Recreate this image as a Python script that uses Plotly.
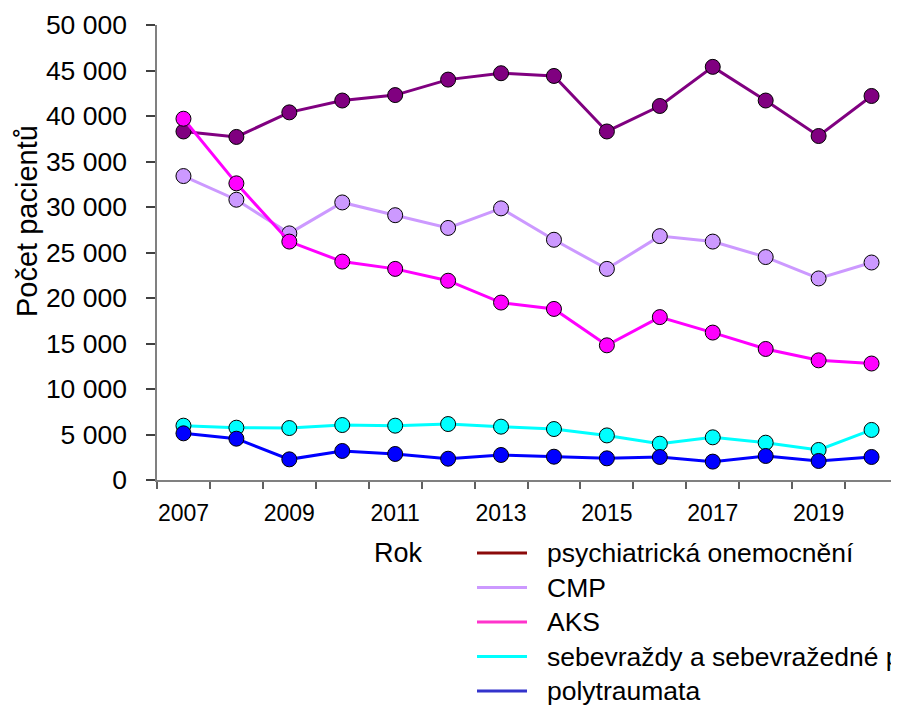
import plotly.graph_objects as go

years = list(range(2007, 2021))

psychiatricka = [38300, 37700, 40400, 41700, 42300, 44000, 44700, 44400, 38300, 41100, 45400, 41700, 37800, 42200]
cmp_vals = [33400, 30800, 27100, 30500, 29100, 27700, 29850, 26400, 23200, 26800, 26200, 24500, 22150, 23900]
aks = [39700, 32600, 26200, 24000, 23200, 21900, 19500, 18800, 14800, 17900, 16200, 14400, 13150, 12800]
sebevrazdy = [5970, 5750, 5710, 6040, 5970, 6150, 5860, 5600, 4900, 3990, 4690, 4100, 3300, 5500]
polytraumata = [5130, 4540, 2270, 3190, 2860, 2340, 2750, 2560, 2380, 2530, 2020, 2640, 2090, 2530]

series_names = ["psychiatrická onemocnění", "CMP", "AKS",
                "sebevraždy a sebevražedné pokusy", "polytraumata"]
series_values = [psychiatricka, cmp_vals, aks, sebevrazdy, polytraumata]
line_colors = ["#800080", "#CC99FF", "#FF00FF", "#00FFFF", "#0000FF"]
legend_colors = ["#8B0A0A", "#CC99FF", "#FF33CC", "#00FFFF", "#3333CC"]

y_tickvals = [0, 5000, 10000, 15000, 20000, 25000, 30000, 35000, 40000, 45000, 50000]
y_ticktext = ["0", "5 000", "10 000", "15 000", "20 000", "25 000", "30 000",
              "35 000", "40 000", "45 000", "50 000"]
x_tickvals = [2007, 2009, 2011, 2013, 2015, 2017, 2019]
x_ticktext = [str(v) for v in x_tickvals]
x_boundaries = [y - 0.5 for y in years] + [years[-1] + 0.5]

FONT = "Liberation Sans, Arial, sans-serif"
W, H = 899, 705
OFF = 8  # page body offset of the figure inside the browser window
ML, MR, MT, MB = 149, 9, 17, 233
PW, PH = W - ML - MR, H - MT - MB


def px_to_paper(wx, wy):
    # window pixel -> paper coordinates
    fx, fy = wx - OFF, wy - OFF
    return (fx - ML) / PW, (H - MB - fy) / PH


fig = go.Figure()
for name, vals, col in zip(series_names, series_values, line_colors):
    fig.add_trace(go.Scatter(
        x=years, y=vals, name=name, mode="lines+markers",
        line=dict(color=col, width=3),
        marker=dict(size=15, color=col, line=dict(color="black", width=1)),
        showlegend=False,
    ))

shapes = []
annotations = []
# manual legend
row_y0 = 553
row_step = 34.5
for i, (name, col) in enumerate(zip(series_names, legend_colors)):
    py = row_y0 + i * row_step
    x0, y0 = px_to_paper(477, py)
    x1, _ = px_to_paper(527, py)
    shapes.append(dict(type="line", xref="paper", yref="paper",
                       x0=x0, x1=x1, y0=y0, y1=y0,
                       line=dict(color=col, width=3)))
    tx, ty = px_to_paper(545, py)
    annotations.append(dict(xref="paper", yref="paper", x=tx, y=ty,
                            xanchor="left", yanchor="middle", showarrow=False,
                            text=name, font=dict(family=FONT, size=26.5, color="black")))

# x axis title "Rok"
rx, ry = px_to_paper(398, 553)
annotations.append(dict(xref="paper", yref="paper", x=rx, y=ry,
                        xanchor="center", yanchor="middle", showarrow=False,
                        text="Rok", font=dict(family=FONT, size=27, color="black")))
# y axis title
tx, ty = px_to_paper(27, 221)
annotations.append(dict(xref="paper", yref="paper", x=tx, y=ty,
                        xanchor="center", yanchor="middle", showarrow=False,
                        textangle=-90, text="Počet pacientů",
                        font=dict(family=FONT, size=29, color="black")))

fig.update_layout(
    width=W, height=H,
    margin=dict(l=ML, r=MR, t=MT, b=MB, autoexpand=False),
    paper_bgcolor="white", plot_bgcolor="white",
    font=dict(family=FONT, color="black"),
    showlegend=False,
    shapes=shapes,
    annotations=annotations,
    xaxis=dict(
        range=[years[0] - 0.5, years[-1] + 0.5],
        tickmode="array", tickvals=x_tickvals, ticktext=x_ticktext,
        ticks="", showgrid=False, zeroline=False,
        showline=True, linecolor="#808080", linewidth=1.5,
        tickfont=dict(family=FONT, size=23, color="black"),
        ticklabelstandoff=12,
        minor=dict(tickmode="array", tickvals=x_boundaries, ticks="outside",
                   ticklen=7, tickwidth=1.5, tickcolor="#606060", showgrid=False),
    ),
    yaxis=dict(
        range=[0, 50000],
        tickmode="array", tickvals=y_tickvals, ticktext=y_ticktext,
        ticks="outside", ticklen=9, tickwidth=1.5, tickcolor="#404040",
        showgrid=False, zeroline=False,
        showline=True, linecolor="#808080", linewidth=1.5,
        tickfont=dict(family=FONT, size=26.5, color="black"),
        ticklabelstandoff=14,
    ),
)

fig.write_html("out.html")
